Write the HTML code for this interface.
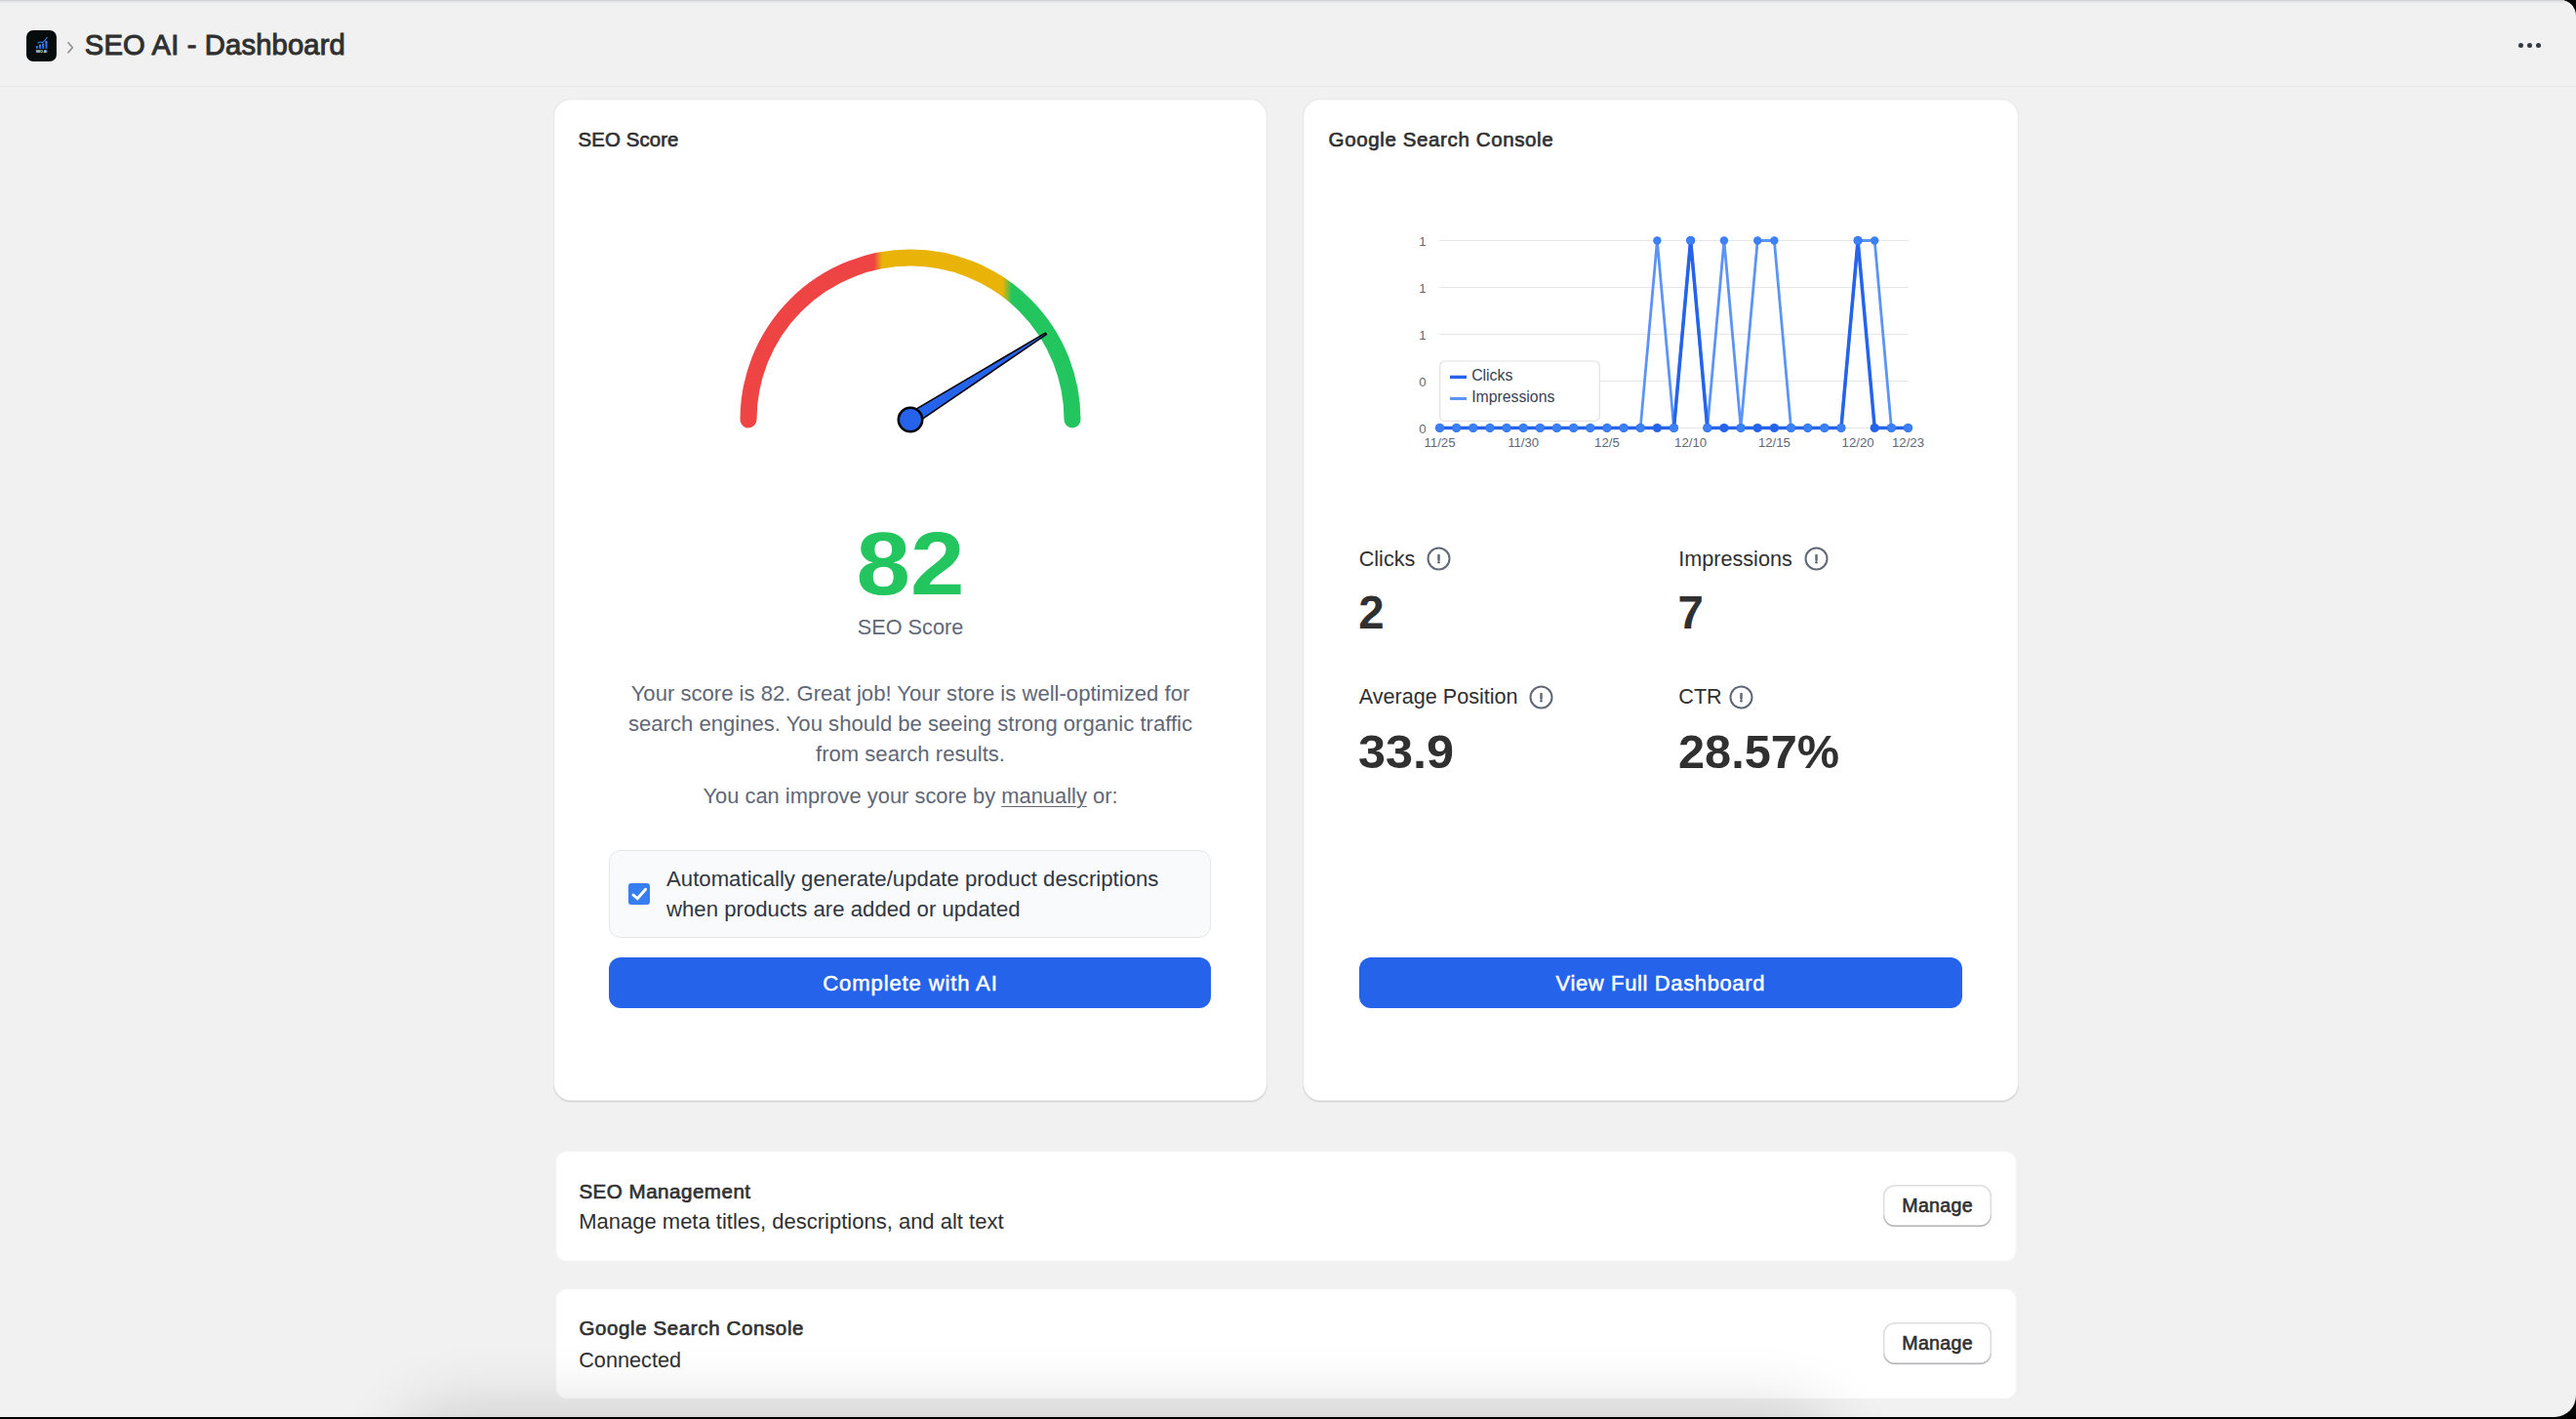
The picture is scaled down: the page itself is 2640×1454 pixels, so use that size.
<!DOCTYPE html>
<html>
<head>
<meta charset="utf-8">
<title>SEO AI - Dashboard</title>
<style>
*{box-sizing:border-box;margin:0;padding:0}
html,body{width:2640px;height:1454px;overflow:hidden;background:#000}
body{font-family:"Liberation Sans",Arial,sans-serif;color:#303030;position:relative}
.main{position:absolute;left:0;top:0;width:2640px;height:1452px;background:#f1f1f1;border-top-right-radius:16px;border-bottom-right-radius:22px;overflow:hidden}
.topline{position:absolute;left:0;top:0;width:100%;height:7px;background:linear-gradient(#cfd0d2 0,#d3d4d6 1px,#e8e9eb 1.6px,#e8e9eb 2.6px,#efefef 3.2px,#f0f0f0 6px,#f1f1f1 7px)}
.hdrline{position:absolute;left:0;top:88px;width:100%;height:1px;background:#e8e9ea}
.abs{position:absolute;white-space:nowrap}
.card{position:absolute;background:#fff;border-radius:18px;box-shadow:inset 0 0 0 1.3px rgba(0,0,0,.085),inset 0 -1.5px 0 rgba(0,0,0,.09),0 1px 0 rgba(26,26,26,.04)}
.card.flat{border-radius:12px;box-shadow:inset 0 0 0 1.2px rgba(0,0,0,.05)}
.ov{position:absolute;left:0;top:0}
@media (max-width:1900px){html{zoom:0.6667}}
@media (max-width:1400px){html{zoom:0.5}}
.ax{font-family:"Liberation Sans",Arial,sans-serif;font-size:13.2px;fill:#616776}
.lg{font-family:"Liberation Sans",Arial,sans-serif;font-size:15.8px;fill:#374151}
.mbtn{background:#fff;border-radius:12px;box-shadow:inset 0 -1.5px 0 #b5b7bb,inset 0 0 0 1.5px #dcdddf,0 0.5px 0 rgba(0,0,0,.08)}
.dock{position:absolute;left:430px;top:1466px;width:1430px;height:60px;border-radius:40px;background:#000;box-shadow:0 0 70px 20px rgba(0,0,0,.16)}
</style>
</head>
<body>
<div class="main">
<div class="topline"></div>
<div class="hdrline"></div>
<div class="abs" style="left:27px;top:31px;width:31px;height:32px;border-radius:7px;background:#060b0c;box-shadow:0 0 0 1px #fff;overflow:hidden"><svg width="31" height="32" viewBox="0 0 31 32"><defs><linearGradient id="lb" x1="0" y1="0" x2="0" y2="1"><stop offset="0" stop-color="#4a8df8"/><stop offset="1" stop-color="#1e5fe0"/></linearGradient></defs><rect x="10" y="16" width="1.8" height="3" rx=".5" fill="url(#lb)"/><rect x="13" y="14.5" width="2" height="4.5" fill="url(#lb)"/><rect x="16.2" y="13.5" width="2" height="5.5" fill="url(#lb)"/><rect x="19.5" y="11" width="2" height="8" fill="url(#lb)"/><path d="M11.5 13.3 Q14 11 16.5 12.6 Q18.5 11.5 21.5 7" stroke="#3d86f5" stroke-width="1.1" fill="none"/><text x="15.5" y="22.8" font-size="3.4" font-weight="700" fill="#fff" text-anchor="middle" font-family="Liberation Sans, Arial, sans-serif">SEO AI</text></svg></div>
<svg class="abs" style="left:67px;top:42px" width="10" height="14" viewBox="0 0 10 14"><path d="M3 1.8 L7.3 6.8 L3 11.8" fill="none" stroke="#8a8c90" stroke-width="1.6" stroke-linecap="round" stroke-linejoin="round"/></svg>
<div class="abs" style="left:86.8px;top:32.48px;font-size:29.2px;line-height:29.2px;font-weight:400;color:#303030;letter-spacing:0.15px;-webkit-text-stroke:1px #303030;">SEO AI - Dashboard</div>
<div class="abs" style="left:2581.2000000000003px;top:43.9px;width:5.2px;height:5.2px;border-radius:50%;background:#343a44"></div>
<div class="abs" style="left:2589.9px;top:43.9px;width:5.2px;height:5.2px;border-radius:50%;background:#343a44"></div>
<div class="abs" style="left:2598.7000000000003px;top:43.9px;width:5.2px;height:5.2px;border-radius:50%;background:#343a44"></div>
<div class="card" style="left:567.2px;top:101px;width:732.3px;height:1027.8px"></div>
<div class="card" style="left:1334.9px;top:101px;width:733.7px;height:1027.8px"></div>
<div class="card flat" style="left:568.8px;top:1178.7px;width:1498.4px;height:114px"></div>
<div class="card flat" style="left:568.8px;top:1320.1px;width:1498.4px;height:113.6px"></div>
<div class="abs" style="left:592.6px;top:132.93px;font-size:20.4px;line-height:20.4px;font-weight:400;color:#303030;letter-spacing:0.1px;-webkit-text-stroke:0.65px #303030;">SEO Score</div>
<div class="abs" style="left:783.00px;width:300px;text-align:center;top:532.00px;font-size:91.2px;line-height:91.2px;font-weight:700;color:#22c55e;transform:scaleX(1.095);">82</div>
<div class="abs" style="left:783.00px;width:300px;text-align:center;top:631.63px;font-size:21.7px;line-height:21.7px;font-weight:400;color:#616776;">SEO Score</div>
<div class="abs" style="left:633px;width:600px;text-align:center;top:694.72px;font-size:22.1px;line-height:31.05px;color:#616776">Your score is 82. Great job! Your store is well-optimized for<br>search engines. You should be seeing strong organic traffic<br>from search results.</div>
<div class="abs" style="left:633.00px;width:600px;text-align:center;top:804.76px;font-size:21.9px;line-height:21.9px;font-weight:400;color:#616776;">You can improve your score by <span style="text-decoration:underline;text-underline-offset:3px;text-decoration-thickness:1.2px">manually</span> or:</div>
<div class="abs" style="left:624.4px;top:871.2px;width:617.1px;height:89.4px;border-radius:12px;background:#f9fafb;border:1.5px solid #e4e6e9"></div>
<div class="abs" style="left:644px;top:905px;width:22px;height:22px;border-radius:3px;background:#377ef3"><svg width="22" height="22" viewBox="0 0 22 22"><path d="M5 12 L9.3 15.8 L17.6 6.2" fill="none" stroke="#fff" stroke-width="2.9" stroke-linecap="round" stroke-linejoin="miter"/></svg></div>
<div class="abs" style="left:683px;top:885.16px;font-size:22.2px;line-height:31.3px;color:#303741">Automatically generate/update product descriptions<br>when products are added or updated</div>
<div class="abs" style="left:624.4px;top:980.5px;width:617.1px;height:52.2px;border-radius:12px;background:#2563eb"></div>
<div class="abs" style="left:733.00px;width:400px;text-align:center;top:996.59px;font-size:22.1px;line-height:22.1px;font-weight:400;color:#fff;letter-spacing:0.85px;-webkit-text-stroke:0.5px #fff;">Complete with AI</div>
<div class="abs" style="left:1361.6px;top:132.85px;font-size:20.5px;line-height:20.5px;font-weight:400;color:#303030;letter-spacing:0.62px;-webkit-text-stroke:0.65px #303030;">Google Search Console</div>
<div class="abs" style="left:1392.7px;top:561.72px;font-size:21.6px;line-height:21.6px;font-weight:400;color:#303030;">Clicks</div>
<div class="abs" style="left:1720.3px;top:561.72px;font-size:21.6px;line-height:21.6px;font-weight:400;color:#303030;">Impressions</div>
<div class="abs" style="left:1392.7px;top:703.42px;font-size:21.6px;line-height:21.6px;font-weight:400;color:#303030;">Average Position</div>
<div class="abs" style="left:1720.3px;top:703.42px;font-size:21.6px;line-height:21.6px;font-weight:400;color:#303030;">CTR</div>
<div class="abs" style="left:1392.3px;top:604.48px;font-size:47.4px;line-height:47.4px;font-weight:700;color:#303030;">2</div>
<div class="abs" style="left:1719.6px;top:604.48px;font-size:47.4px;line-height:47.4px;font-weight:700;color:#303030;">7</div>
<div class="abs" style="left:1392.3px;top:746.58px;font-size:47.4px;line-height:47.4px;font-weight:700;color:#303030;transform:scaleX(1.064);transform-origin:0 0;">33.9</div>
<div class="abs" style="left:1719.6px;top:746.58px;font-size:47.4px;line-height:47.4px;font-weight:700;color:#303030;transform:scaleX(1.027);transform-origin:0 0;">28.57%</div>
<svg class="abs" style="left:1462.1px;top:560.0px" width="25" height="25" viewBox="0 0 25 25"><circle cx="12.5" cy="12.5" r="11" fill="none" stroke="#616875" stroke-width="2"/><path d="M12.5 8.9 V13.7" stroke="#616875" stroke-width="2.5" stroke-linecap="round"/><circle cx="12.5" cy="16.3" r="1.3" fill="#616875"/></svg>
<svg class="abs" style="left:1848.9px;top:560.0px" width="25" height="25" viewBox="0 0 25 25"><circle cx="12.5" cy="12.5" r="11" fill="none" stroke="#616875" stroke-width="2"/><path d="M12.5 8.9 V13.7" stroke="#616875" stroke-width="2.5" stroke-linecap="round"/><circle cx="12.5" cy="16.3" r="1.3" fill="#616875"/></svg>
<svg class="abs" style="left:1566.9px;top:702.1px" width="25" height="25" viewBox="0 0 25 25"><circle cx="12.5" cy="12.5" r="11" fill="none" stroke="#616875" stroke-width="2"/><path d="M12.5 8.9 V13.7" stroke="#616875" stroke-width="2.5" stroke-linecap="round"/><circle cx="12.5" cy="16.3" r="1.3" fill="#616875"/></svg>
<svg class="abs" style="left:1771.8px;top:702.1px" width="25" height="25" viewBox="0 0 25 25"><circle cx="12.5" cy="12.5" r="11" fill="none" stroke="#616875" stroke-width="2"/><path d="M12.5 8.9 V13.7" stroke="#616875" stroke-width="2.5" stroke-linecap="round"/><circle cx="12.5" cy="16.3" r="1.3" fill="#616875"/></svg>
<div class="abs" style="left:1392.8px;top:980.5px;width:618px;height:52.2px;border-radius:12px;background:#2563eb"></div>
<div class="abs" style="left:1501.80px;width:400px;text-align:center;top:996.56px;font-size:21.9px;line-height:21.9px;font-weight:400;color:#fff;letter-spacing:0.68px;-webkit-text-stroke:0.5px #fff;">View Full Dashboard</div>
<div class="abs" style="left:593.4px;top:1210.86px;font-size:20.6px;line-height:20.6px;font-weight:400;color:#303030;letter-spacing:0.48px;-webkit-text-stroke:0.65px #303030;">SEO Management</div>
<div class="abs" style="left:593.2px;top:1240.68px;font-size:22px;line-height:22px;font-weight:400;color:#303030;">Manage meta titles, descriptions, and alt text</div>
<div class="abs" style="left:593.4px;top:1350.85px;font-size:20.5px;line-height:20.5px;font-weight:400;color:#303030;letter-spacing:0.62px;-webkit-text-stroke:0.65px #303030;">Google Search Console</div>
<div class="abs" style="left:593.2px;top:1383.43px;font-size:21.7px;line-height:21.7px;font-weight:400;color:#303030;">Connected</div>
<div class="abs mbtn" style="left:1930.2px;top:1214.4px;width:110.4px;height:43.1px"></div><div class="abs" style="left:1930.40px;width:110.4px;text-align:center;top:1226.41px;font-size:19.6px;line-height:19.6px;font-weight:400;color:#303030;letter-spacing:0.3px;-webkit-text-stroke:0.6px #303030;">Manage</div>
<div class="abs mbtn" style="left:1930.2px;top:1355.4px;width:110.4px;height:43.1px"></div><div class="abs" style="left:1930.40px;width:110.4px;text-align:center;top:1367.41px;font-size:19.6px;line-height:19.6px;font-weight:400;color:#303030;letter-spacing:0.3px;-webkit-text-stroke:0.6px #303030;">Manage</div>
<svg class="ov" width="2640" height="1454" viewBox="0 0 2640 1454"><defs><linearGradient id="gg" gradientUnits="userSpaceOnUse" x1="767" y1="0" x2="1099" y2="0"><stop offset="0" stop-color="#ef4444"/><stop offset="0.388" stop-color="#ef4444"/><stop offset="0.4136" stop-color="#eab308"/><stop offset="0.7846" stop-color="#eab308"/><stop offset="0.8142" stop-color="#22c55e"/><stop offset="1" stop-color="#22c55e"/></linearGradient></defs>
<path d="M 767 430 A 166 166 0 0 1 1099 430" fill="none" stroke="url(#gg)" stroke-width="17" stroke-linecap="round"/>
<polygon points="936.38,435.32 1072.37,342.62 1071.41,341.10 929.62,424.68" fill="#2563eb" stroke="#000" stroke-width="1.6" stroke-linejoin="round"/>
<circle cx="933" cy="430" r="12.2" fill="#2563eb" stroke="#000" stroke-width="2.6"/>
<line x1="1475" y1="246.5" x2="1956" y2="246.5" stroke="#e5e7eb" stroke-width="1.2"/>
<line x1="1475" y1="294.5" x2="1956" y2="294.5" stroke="#e5e7eb" stroke-width="1.2"/>
<line x1="1475" y1="342.5" x2="1956" y2="342.5" stroke="#e5e7eb" stroke-width="1.2"/>
<line x1="1475" y1="390.5" x2="1956" y2="390.5" stroke="#e5e7eb" stroke-width="1.2"/>
<line x1="1475" y1="438.5" x2="1956" y2="438.5" stroke="#e5e7eb" stroke-width="1.2"/>
<text x="1461.5" y="251.8" text-anchor="end" class="ax">1</text>
<text x="1461.5" y="299.8" text-anchor="end" class="ax">1</text>
<text x="1461.5" y="347.8" text-anchor="end" class="ax">1</text>
<text x="1461.5" y="395.8" text-anchor="end" class="ax">0</text>
<text x="1461.5" y="443.8" text-anchor="end" class="ax">0</text>
<text x="1475.5" y="458.4" text-anchor="middle" class="ax">11/25</text>
<text x="1561.2" y="458.4" text-anchor="middle" class="ax">11/30</text>
<text x="1646.9" y="458.4" text-anchor="middle" class="ax">12/5</text>
<text x="1732.6" y="458.4" text-anchor="middle" class="ax">12/10</text>
<text x="1818.4" y="458.4" text-anchor="middle" class="ax">12/15</text>
<text x="1904.1" y="458.4" text-anchor="middle" class="ax">12/20</text>
<text x="1955.5" y="458.4" text-anchor="middle" class="ax">12/23</text>
<polyline points="1475.50,438.50 1492.64,438.50 1509.79,438.50 1526.93,438.50 1544.07,438.50 1561.21,438.50 1578.36,438.50 1595.50,438.50 1612.64,438.50 1629.79,438.50 1646.93,438.50 1664.07,438.50 1681.21,438.50 1698.36,246.50 1715.50,438.50 1732.64,246.50 1749.79,438.50 1766.93,246.50 1784.07,438.50 1801.21,246.50 1818.36,246.50 1835.50,438.50 1852.64,438.50 1869.79,438.50 1886.93,438.50 1904.07,246.50 1921.21,246.50 1938.36,438.50 1955.50,438.50" fill="none" stroke="#5c94f6" stroke-width="2.8" stroke-linejoin="round"/>
<polyline points="1475.50,438.50 1492.64,438.50 1509.79,438.50 1526.93,438.50 1544.07,438.50 1561.21,438.50 1578.36,438.50 1595.50,438.50 1612.64,438.50 1629.79,438.50 1646.93,438.50 1664.07,438.50 1681.21,438.50 1698.36,438.50 1715.50,438.50 1732.64,246.50 1749.79,438.50 1766.93,438.50 1784.07,438.50 1801.21,438.50 1818.36,438.50 1835.50,438.50 1852.64,438.50 1869.79,438.50 1886.93,438.50 1904.07,246.50 1921.21,438.50 1938.36,438.50 1955.50,438.50" fill="none" stroke="#2563eb" stroke-width="3.5" stroke-linejoin="round"/>
<circle cx="1475.50" cy="438.50" r="4.6" fill="#2563eb"/>
<circle cx="1492.64" cy="438.50" r="4.6" fill="#2563eb"/>
<circle cx="1509.79" cy="438.50" r="4.6" fill="#2563eb"/>
<circle cx="1526.93" cy="438.50" r="4.6" fill="#2563eb"/>
<circle cx="1544.07" cy="438.50" r="4.6" fill="#2563eb"/>
<circle cx="1561.21" cy="438.50" r="4.6" fill="#2563eb"/>
<circle cx="1578.36" cy="438.50" r="4.6" fill="#2563eb"/>
<circle cx="1595.50" cy="438.50" r="4.6" fill="#2563eb"/>
<circle cx="1612.64" cy="438.50" r="4.6" fill="#2563eb"/>
<circle cx="1629.79" cy="438.50" r="4.6" fill="#2563eb"/>
<circle cx="1646.93" cy="438.50" r="4.6" fill="#2563eb"/>
<circle cx="1664.07" cy="438.50" r="4.6" fill="#2563eb"/>
<circle cx="1681.21" cy="438.50" r="4.6" fill="#2563eb"/>
<circle cx="1698.36" cy="438.50" r="4.6" fill="#2563eb"/>
<circle cx="1715.50" cy="438.50" r="4.6" fill="#2563eb"/>
<circle cx="1732.64" cy="246.50" r="4.6" fill="#2563eb"/>
<circle cx="1749.79" cy="438.50" r="4.6" fill="#2563eb"/>
<circle cx="1766.93" cy="438.50" r="4.6" fill="#2563eb"/>
<circle cx="1784.07" cy="438.50" r="4.6" fill="#2563eb"/>
<circle cx="1801.21" cy="438.50" r="4.6" fill="#2563eb"/>
<circle cx="1818.36" cy="438.50" r="4.6" fill="#2563eb"/>
<circle cx="1835.50" cy="438.50" r="4.6" fill="#2563eb"/>
<circle cx="1852.64" cy="438.50" r="4.6" fill="#2563eb"/>
<circle cx="1869.79" cy="438.50" r="4.6" fill="#2563eb"/>
<circle cx="1886.93" cy="438.50" r="4.6" fill="#2563eb"/>
<circle cx="1904.07" cy="246.50" r="4.6" fill="#2563eb"/>
<circle cx="1921.21" cy="438.50" r="4.6" fill="#2563eb"/>
<circle cx="1938.36" cy="438.50" r="4.6" fill="#2563eb"/>
<circle cx="1955.50" cy="438.50" r="4.6" fill="#2563eb"/>
<circle cx="1475.50" cy="438.50" r="4.2" fill="#3b80f4"/>
<circle cx="1492.64" cy="438.50" r="4.2" fill="#3b80f4"/>
<circle cx="1509.79" cy="438.50" r="4.2" fill="#3b80f4"/>
<circle cx="1526.93" cy="438.50" r="4.2" fill="#3b80f4"/>
<circle cx="1544.07" cy="438.50" r="4.2" fill="#3b80f4"/>
<circle cx="1561.21" cy="438.50" r="4.2" fill="#3b80f4"/>
<circle cx="1578.36" cy="438.50" r="4.2" fill="#3b80f4"/>
<circle cx="1595.50" cy="438.50" r="4.2" fill="#3b80f4"/>
<circle cx="1612.64" cy="438.50" r="4.2" fill="#3b80f4"/>
<circle cx="1629.79" cy="438.50" r="4.2" fill="#3b80f4"/>
<circle cx="1646.93" cy="438.50" r="4.2" fill="#3b80f4"/>
<circle cx="1664.07" cy="438.50" r="4.2" fill="#3b80f4"/>
<circle cx="1681.21" cy="438.50" r="4.2" fill="#3b80f4"/>
<circle cx="1698.36" cy="246.50" r="4.2" fill="#3b80f4"/>
<circle cx="1715.50" cy="438.50" r="4.2" fill="#3b80f4"/>
<circle cx="1732.64" cy="246.50" r="4.2" fill="#3b80f4"/>
<circle cx="1749.79" cy="438.50" r="4.2" fill="#3b80f4"/>
<circle cx="1766.93" cy="246.50" r="4.2" fill="#3b80f4"/>
<circle cx="1784.07" cy="438.50" r="4.2" fill="#3b80f4"/>
<circle cx="1801.21" cy="246.50" r="4.2" fill="#3b80f4"/>
<circle cx="1818.36" cy="246.50" r="4.2" fill="#3b80f4"/>
<circle cx="1835.50" cy="438.50" r="4.2" fill="#3b80f4"/>
<circle cx="1852.64" cy="438.50" r="4.2" fill="#3b80f4"/>
<circle cx="1869.79" cy="438.50" r="4.2" fill="#3b80f4"/>
<circle cx="1886.93" cy="438.50" r="4.2" fill="#3b80f4"/>
<circle cx="1904.07" cy="246.50" r="4.2" fill="#3b80f4"/>
<circle cx="1921.21" cy="246.50" r="4.2" fill="#3b80f4"/>
<circle cx="1938.36" cy="438.50" r="4.2" fill="#3b80f4"/>
<circle cx="1955.50" cy="438.50" r="4.2" fill="#3b80f4"/>
<rect x="1475.7" y="370" width="163.6" height="61.4" rx="5" fill="#fff" stroke="#e1e2e4" stroke-width="1.2"/>
<rect x="1486" y="384.7" width="17" height="3.4" fill="#2563eb"/>
<rect x="1486" y="406.9" width="17" height="3.1" fill="#5c94f6"/>
<text x="1508.2" y="389.8" class="lg">Clicks</text>
<text x="1508.2" y="412" class="lg">Impressions</text></svg>
<div class="dock"></div>
</div>
</body>
</html>
